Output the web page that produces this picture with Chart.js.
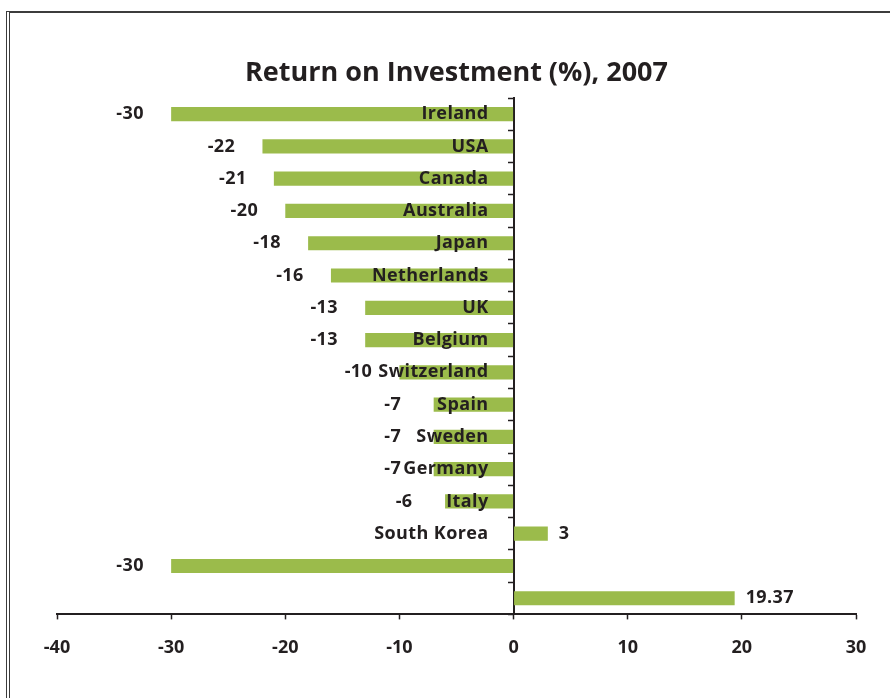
<!DOCTYPE html>
<html>
<head>
<meta charset="utf-8">
<script src="https://cdn.jsdelivr.net/npm/chart.js@4/dist/chart.umd.min.js"></script>
<style>
  html, body { margin: 0; padding: 0; background: #ffffff; }
  #wrap { position: relative; width: 890px; height: 698px; overflow: hidden; }
  #frame {
    position: absolute; left: 6px; top: 11px; right: -10px; bottom: -10px;
    border-top: 2px solid #3c3c3c; border-left: 4px double #3c3c3c;
  }
  canvas { position: absolute; left: 0; top: 0; }
</style>
</head>
<body>
<div id="wrap">
  <div id="frame"></div>
  <canvas id="roi" width="890" height="698"></canvas>
</div>
<script>
// Return on investment by country, 2007 (%)
const countries = ['Ireland', 'USA', 'Canada', 'Australia', 'Japan', 'Netherlands', 'UK',
  'Belgium', 'Switzerland', 'Spain', 'Sweden', 'Germany', 'Italy', 'South Korea', '', ''];
const returns = [-30, -22, -21, -20, -18, -16, -13, -13, -10, -7, -7, -7, -6, 3, -30, 19.37];
const xTicks = [-40, -30, -20, -10, 0, 10, 20, 30];

const INK = '#231f20';
const BAR = '#9bbb4b';
const FONT = '"Open Sans", "Liberation Sans", sans-serif';

// Country names sit just left of the zero axis; values sit beyond each bar end.
const barLabels = {
  id: 'barLabels',
  afterDatasetsDraw(chart) {
    const { ctx, scales: { x, y } } = chart;
    const meta = chart.getDatasetMeta(0);
    const zero = x.getPixelForValue(0);
    ctx.save();
    ctx.fillStyle = INK;
    ctx.font = 'bold 18px ' + FONT;
    if ('letterSpacing' in ctx) ctx.letterSpacing = '0.4px';
    ctx.textBaseline = 'middle';
    countries.forEach((name, i) => {
      const cy = y.getPixelForValue(i);
      ctx.textAlign = 'right';
      ctx.fillText(name, zero - 25, cy);
    });
    meta.data.forEach((bar, i) => {
      const v = returns[i];
      const text = String(v);
      if (v < 0) {
        ctx.textAlign = 'center';
        ctx.fillText(text, bar.x - 41, bar.y);
      } else {
        ctx.textAlign = 'left';
        ctx.fillText(text, bar.x + 11, bar.y);
      }
    });
    ctx.restore();
  }
};

new Chart(document.getElementById('roi'), {
  type: 'bar',
  data: {
    labels: countries,
    datasets: [{
      data: returns,
      backgroundColor: BAR,
      borderWidth: 0,
      barPercentage: 0.44,
      categoryPercentage: 1.0
    }]
  },
  options: {
    indexAxis: 'y',
    responsive: false,
    animation: false,
    events: [],
    layout: { padding: { left: 57, right: 34, top: 0, bottom: 21 } },
    plugins: {
      legend: { display: false },
      tooltip: { enabled: false },
      title: {
        display: true,
        text: 'Return on Investment (%), 2007',
        color: INK,
        font: { family: FONT, size: 27, weight: 'bold', lineHeight: 1.2 },
        padding: { top: 57, bottom: 8.6 }
      }
    },
    scales: {
      x: {
        type: 'linear',
        min: -40,
        max: 30,
        afterBuildTicks(scale) { scale.ticks = xTicks.map(v => ({ value: v })); },
        grid: { drawOnChartArea: false, drawTicks: true, tickLength: 5, tickWidth: 1.5, tickColor: INK },
        border: { display: true, color: INK, width: 2 },
        ticks: { color: INK, padding: 18, maxRotation: 0, font: { family: FONT, size: 18, weight: 'bold' } }
      },
      y: {
        type: 'category',
        position: { x: 0 },
        grid: { drawOnChartArea: false, drawTicks: true, offset: true, tickLength: 5, tickWidth: 1.5, tickColor: INK },
        border: { display: true, color: INK, width: 2 },
        ticks: { display: false }
      }
    }
  },
  plugins: [barLabels]
});
</script>
</body>
</html>
